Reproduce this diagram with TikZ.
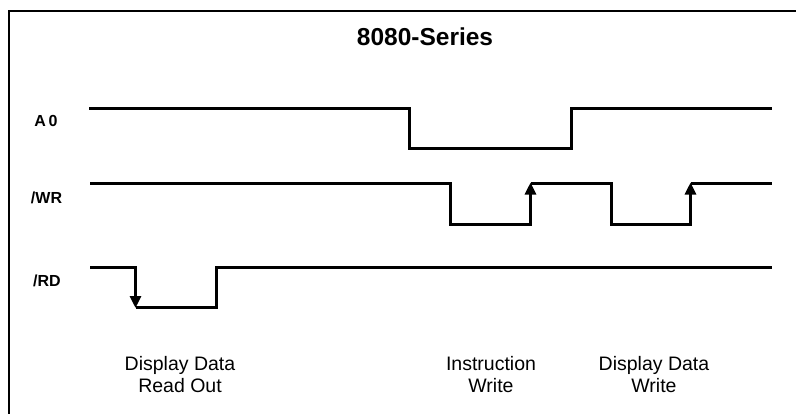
\documentclass[tikz,border=0pt]{standalone}
\usepackage{fontspec}
\setmainfont{Liberation Sans}
\usetikzlibrary{arrows.meta}
\begin{document}
\begin{tikzpicture}[x=1pt,y=-1pt,
  wave/.style={line width=3pt,line join=miter,line cap=butt},
  edgearrow/.style={line width=3pt,-{Triangle[length=12pt,width=11pt]}},
  frameline/.style={line width=1.6pt},
  siglabel/.style={font=\fontsize{16}{18}\selectfont\bfseries,inner sep=0pt},
  titlelabel/.style={font=\fontsize{24.5}{28}\selectfont\bfseries,inner sep=0pt},
  desclabel/.style={font=\fontsize{19.5}{22}\selectfont,align=center,inner sep=0pt}]
\useasboundingbox (0,0) rectangle (796,413);
\fill[white] (0,0) rectangle (796,413);
% frame
\draw[frameline] (9,415) -- (9,11) -- (798,11);
% title
\node[titlelabel] (title) at (425,37) {8080-Series};
% signal labels
\node[siglabel] (la0) at (46,121) {A\,0};
\node[siglabel] (lwr) at (46.5,198) {/WR};
\node[siglabel] (lrd) at (47,281) {/RD};
% A0
\draw[wave] (89,108.5) -- (409.5,108.5) -- (409.5,148) -- (571,148) -- (571,108.5) -- (772,108.5);
% /WR
\draw[wave] (90,183.5) -- (450,183.5) -- (450,224) -- (530.5,224) -- (530.5,212);
\draw[edgearrow] (530.5,214) -- (530.5,182.5);
\draw[wave] (530.5,183.5) -- (611,183.5) -- (611,224) -- (690.5,224) -- (690.5,212);
\draw[edgearrow] (690.5,214) -- (690.5,182.5);
\draw[wave] (690.5,183.5) -- (772,183.5);
% /RD
\draw[wave] (90,267) -- (135.5,267) -- (135.5,280);
\draw[edgearrow] (135.5,278) -- (135.5,308);
\draw[wave] (135.5,307) -- (216.5,307) -- (216.5,267) -- (772,267);
% descriptions
\node[desclabel] (d1) at (180,375) {Display Data\\Read Out};
\node[desclabel] (d2) at (491,375) {Instruction\\Write};
\node[desclabel] (d3) at (654,375) {Display Data\\Write};
\end{tikzpicture}
\end{document}
